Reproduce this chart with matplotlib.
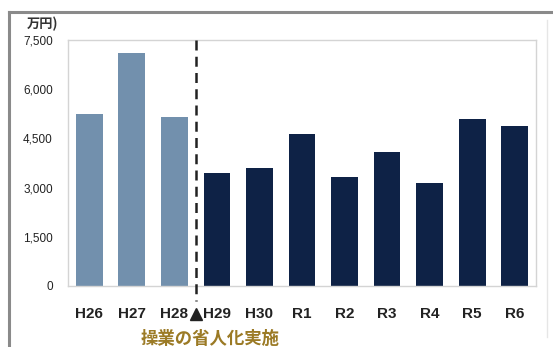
import matplotlib
matplotlib.use("Agg")
import matplotlib.pyplot as plt
from matplotlib.lines import Line2D
import matplotlib.transforms as mtransforms

plt.rcParams['font.family'] = ['Liberation Sans', 'Noto Sans CJK JP', 'DejaVu Sans']

# Fiscal years and amounts (unit: 10,000 yen)
years = ["H26", "H27", "H28", "H29", "H30", "R1", "R2", "R3", "R4", "R5", "R6"]
amounts = [5240, 7100, 5140, 3460, 3610, 4620, 3310, 4100, 3150, 5080, 4870]
y_ticks = [0, 1500, 3000, 4500, 6000, 7500]
y_tick_labels = ["0", "1,500", "3,000", "4,500", "6,000", "7,500"]
unit_label = "万円)"
event_label = "操業の省人化実施"
event_index = 3  # first year after the change

light_color = "#7290ad"
dark_color = "#0e2246"
colors = [light_color if i < event_index else dark_color for i in range(len(years))]

fig = plt.figure(figsize=(5.53, 3.47), dpi=100)
ax = fig.add_axes([68 / 553, 1 - 286 / 347, (536 - 68) / 553, (286 - 40) / 347])

x = list(range(len(years)))
ax.bar(x, amounts, width=0.63, color=colors, zorder=2)

ax.set_xlim(-0.5, len(years) - 0.5)
ax.set_ylim(0, 7500)
ax.set_yticks(y_ticks)
ax.set_yticklabels(y_tick_labels, fontsize=8.5, color="#222222")
ax.set_xticks(x)
ax.set_xticklabels(years, fontsize=11, fontweight="bold", color="#222222")
ax.tick_params(axis="y", length=0, pad=11)
ax.tick_params(axis="x", length=0, pad=15)
for s in ax.spines.values():
    s.set_color("#d4d4d4")
    s.set_linewidth(1)

# Dashed divider between H28 and H29, with marker and caption below the axis
trans = mtransforms.blended_transform_factory(ax.transData, ax.transAxes)
div_x = event_index - 0.5
ax.plot([div_x, div_x], [1.0, -0.06], transform=trans, color="#222222",
        linestyle=(0, (4, 2.5)), linewidth=1.8, clip_on=False, zorder=3)
ax.plot([div_x], [-0.115], transform=trans, marker="^", markersize=9,
        color="#222222", clip_on=False, zorder=3)
ax.text(div_x + 0.35, -0.215, event_label, transform=trans, ha="center", va="center",
        fontsize=12.5, fontweight="bold", color="#9b7a25",
        family=["Noto Sans CJK JP", "DejaVu Sans"])

# Unit label above the y axis
fig.text(27 / 553, 1 - 24 / 347, unit_label, ha="left", va="center",
         fontsize=9.5, fontweight="bold", color="#333333",
         family=["Noto Sans CJK JP", "DejaVu Sans"])

# Outer panel border
fig.add_artist(Line2D([9 / 553, 1.0], [1 - 12 / 347, 1 - 12 / 347], transform=fig.transFigure,
                      color="#8a8a8a", linewidth=2.2))
fig.add_artist(Line2D([9 / 553, 9 / 553], [0.0, 1 - 12 / 347], transform=fig.transFigure,
                      color="#8a8a8a", linewidth=2.2))
fig.add_artist(Line2D([547 / 553, 547 / 553], [0.03, 1 - 20 / 347], transform=fig.transFigure,
                      color="#e6e6e6", linewidth=1))

fig.savefig("out.png", dpi=100)
